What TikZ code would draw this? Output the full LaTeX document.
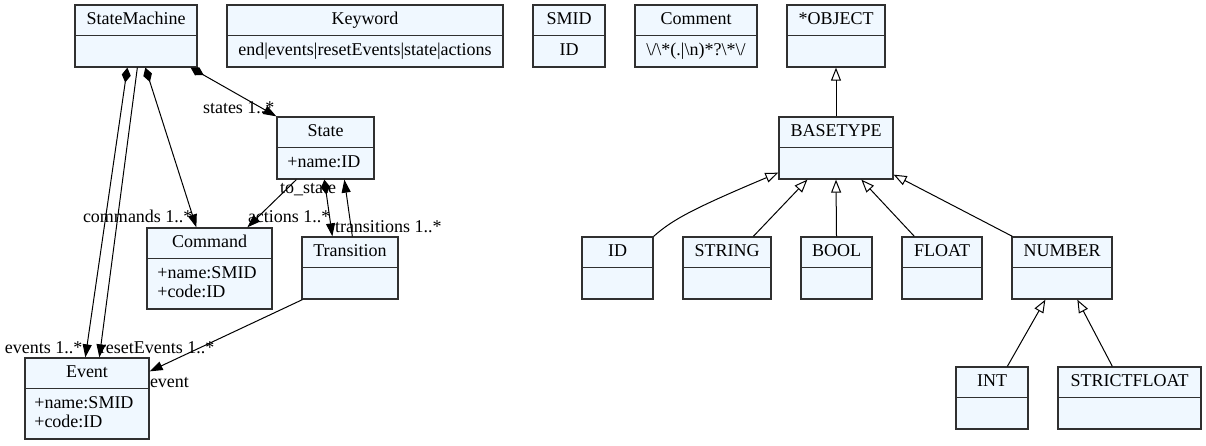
\documentclass[tikz,border=0pt]{standalone}
\usepackage{fontspec}
\setmainfont{Liberation Serif}
\usetikzlibrary{arrows.meta,fit}
\definecolor{boxfill}{HTML}{F0F8FF}
\definecolor{boxdraw}{HTML}{303030}
\tikzset{
  umlbox/.style={draw=boxdraw, fill=boxfill, line width=1.3pt, inner sep=0pt, rectangle},
  divider/.style={draw=boxdraw, line width=1.3pt},
  txt/.style={font=\fontsize{18}{19}\selectfont, inner sep=0pt, outer sep=0pt},
  lbl/.style={txt, anchor=base west},
  conn/.style={draw=black, line width=1pt},
  comp/.style={conn, {Diamond[length=15pt,width=9pt]}-{Triangle[length=13pt,width=9pt]}},
  ref/.style={conn, -{Triangle[length=13pt,width=9pt]}},
  gen/.style={conn, -{Triangle[open,length=13pt,width=10pt]}},
}
\newcommand\umlclass[6]{%
  \node[umlbox, fit={(#2,#3)(#4,#5)}] (#1) {};
  \draw[divider] ([yshift=-31pt]#1.north west) -- ([yshift=-31pt]#1.north east);
  \node[txt, anchor=base] (#1-title) at ([yshift=-20.5pt]#1.north) {#6};
}
\begin{document}
\begin{tikzpicture}[x=1pt,y=-1pt]
\fill[white] (0,0) rectangle (1206,445);
\useasboundingbox (0,0) rectangle (1206,445);

% classes
\umlclass{sm}{75}{5}{197}{67}{StateMachine}
\umlclass{kw}{227}{5}{503}{67}{Keyword}
\umlclass{smid}{533}{5}{605}{67}{SMID}
\umlclass{cmt}{635}{5}{757}{67}{Comment}
\umlclass{obj}{787}{5}{885}{67}{*OBJECT}
\umlclass{state}{277}{117}{374}{179}{State}
\umlclass{base}{779}{117}{893}{179}{BASETYPE}
\umlclass{cmd}{147}{228}{272}{309}{Command}
\umlclass{trans}{302}{237}{398}{299}{Transition}
\umlclass{id}{582}{237}{653}{299}{ID}
\umlclass{string}{683}{237}{771}{299}{STRING}
\umlclass{bool}{801}{237}{872}{299}{BOOL}
\umlclass{float}{902}{237}{982}{299}{FLOAT}
\umlclass{number}{1012}{237}{1112}{299}{NUMBER}
\umlclass{ev}{25}{358}{149}{439}{Event}
\umlclass{int}{956}{367}{1028}{429}{INT}
\umlclass{sf}{1058}{367}{1201}{429}{STRICTFLOAT}

% bodies
\node[txt,anchor=base] (kw-body) at ([yshift=-51.5pt]kw.north) {end|events|resetEvents|state|actions};
\node[txt,anchor=base] (smid-body) at ([yshift=-51.5pt]smid.north) {ID};
\node[txt,anchor=base] (cmt-body) at ([yshift=-51.5pt]cmt.north) {\textbackslash/\textbackslash*(.|\textbackslash n)*?\textbackslash*\textbackslash/};
\node[txt,anchor=base west] (state-a1) at ([shift={(11pt,-51pt)}]state.north west) {+name:ID};
\node[txt,anchor=base west] (cmd-a1) at ([shift={(11pt,-51pt)}]cmd.north west) {+name:SMID};
\node[txt,anchor=base west] (cmd-a2) at ([shift={(11pt,-70pt)}]cmd.north west) {+code:ID};
\node[txt,anchor=base west] (ev-a1) at ([shift={(10pt,-51pt)}]ev.north west) {+name:SMID};
\node[txt,anchor=base west] (ev-a2) at ([shift={(10pt,-70pt)}]ev.north west) {+code:ID};

% labels
\node[lbl] (l-states) at (203,113) {states 1..*};
\node[lbl] (l-commands) at (83,222) {commands 1..*};
\node[lbl] (l-actions) at (248,222) {actions 1..*};
\node[lbl] (l-tostate) at (280,193) {to\_state};
\node[lbl] (l-transitions) at (335,232) {transitions 1..*};
\node[lbl] (l-events) at (5,353) {events 1..*};
\node[lbl] (l-reset) at (100,353) {resetEvents 1..*};
\node[lbl] (l-event) at (150,387) {event};

% associations
\draw[comp] ([xshift=-7pt]sm.south east) -- (state.north west);
\draw[comp] ([xshift=71pt]sm.south west) -- ([xshift=50pt]cmd.north west);
\draw[comp] ([xshift=53pt]sm.south west) -- ([xshift=61pt]ev.north west);
\draw[ref] ([xshift=63pt]sm.south west) -- ([xshift=75pt]ev.north west);
\draw[ref] ([xshift=20pt]state.south west) -- ([xshift=101pt]cmd.north west);
\draw[comp] ([xshift=48pt]state.south west) -- ([xshift=31pt]trans.north west);
\draw[ref] ([xshift=51pt]trans.north west) -- ([xshift=68pt]state.south west);
\draw[ref] ([xshift=1pt]trans.south west) -- ([yshift=-14pt]ev.north east);

% generalizations
\draw[gen] (base.north) -- (obj.south);
\draw[gen] (id.north east) .. controls (672,220) and (692,209) .. ([yshift=7pt]base.south west);
\draw[gen] ([xshift=71pt]string.north west) -- ([xshift=29pt]base.south west);
\draw[gen] (bool.north) -- (base.south);
\draw[gen] ([xshift=13pt]float.north west) -- ([xshift=83pt]base.south west);
\draw[gen] ([xshift=1pt]number.north west) -- ([yshift=5pt]base.south east);
\draw[gen] ([xshift=52pt]int.north west) -- ([xshift=34pt]number.south west);
\draw[gen] ([xshift=55pt]sf.north west) -- ([xshift=66pt]number.south west);
\end{tikzpicture}
\end{document}
